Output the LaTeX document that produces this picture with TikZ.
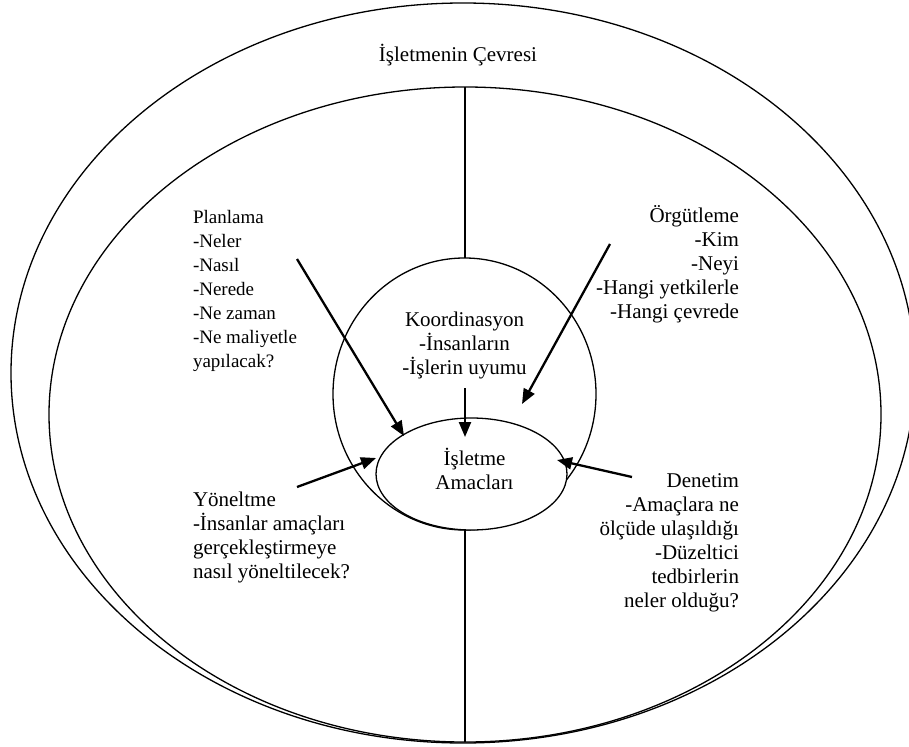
\documentclass[tikz,border=0pt]{standalone}
\usepackage{fontspec}
\setmainfont{Liberation Serif}
\usetikzlibrary{arrows.meta,shapes.geometric}
\begin{document}
\begin{tikzpicture}[x=1pt,y=-1pt,
  ring/.style={draw,ellipse,line width=1.3pt,inner sep=0pt,outer sep=0pt},
  conn/.style={line width=1.3pt},
  arr/.style={line width=2.3pt,-{Triangle[length=15pt,width=12pt]}},
  lbl/.style={inner sep=0pt,outer sep=0pt,font=\fontsize{21}{24}\selectfont},
  lblsmall/.style={lbl,font=\fontsize{19}{24}\selectfont}]
\useasboundingbox (0,0) rectangle (909,746);
\clip (0,0) rectangle (909,746);
% ellipses
\node[ring,minimum width=904pt,minimum height=740pt] (outer) at (463,373) {};
\node[ring,minimum width=832pt,minimum height=655pt] (inner) at (465,414.5) {};
\node[ring,minimum width=263pt,minimum height=272pt] (coord) at (464.5,394) {};
% vertical axis
\draw[conn] (inner.north) -- (inner.north |- coord.north);
\node[ring,fill=white,minimum width=191pt,minimum height=112pt] (goal) at (471.5,474) {};
\draw[conn] (inner.south) -- (inner.south |- goal.south);
% texts
\node[lbl,anchor=base] (env) at (458,62) {İşletmenin Çevresi};
\node[lblsmall,anchor=north west,align=left] (plan) at (193,203)
  {\rule{0pt}{20pt}Planlama\\-Neler\\-Nasıl\\-Nerede\\-Ne zaman\\-Ne maliyetle\\yapılacak?};
\node[lbl,anchor=north east,align=right] (org) at (739,202)
  {\rule{0pt}{20pt}Örgütleme\\-Kim\\-Neyi\\-Hangi yetkilerle\\-Hangi çevrede};
\node[lbl,anchor=north,align=center] (koor) at (464.5,306)
  {\rule{0pt}{20pt}Koordinasyon\\-İnsanların\\-İşlerin uyumu};
\node[lbl,anchor=north,align=center] (goaltxt) at (474.5,445)
  {\rule{0pt}{20pt}İşletme\\Amacları};
\node[lbl,anchor=north west,align=left] (yon) at (193,486)
  {\rule{0pt}{20pt}Yöneltme\\-İnsanlar amaçları\\gerçekleştirmeye\\nasıl yöneltilecek?};
\node[lbl,anchor=north east,align=right] (den) at (739,467)
  {\rule{0pt}{20pt}Denetim\\-Amaçlara ne\\ölçüde ulaşıldığı\\-Düzeltici\\tedbirlerin\\neler olduğu?};
% arrow end points
\coordinate (p1) at (297,259);  \coordinate (q1) at (404,436);
\coordinate (p2) at (610,244);  \coordinate (q2) at (522,404);
\coordinate (p3) at (465,388);  \coordinate (q3) at (465,437);
\coordinate (p4) at (297,487);  \coordinate (q4) at (376,458);
\coordinate (p5) at (632,477);  \coordinate (q5) at (557,460);
\draw[arr] (p1) -- (q1);
\draw[arr] (p2) -- (q2);
\draw[arr] (p3) -- (q3);
\draw[arr] (p4) -- (q4);
\draw[arr] (p5) -- (q5);
\end{tikzpicture}
\end{document}
